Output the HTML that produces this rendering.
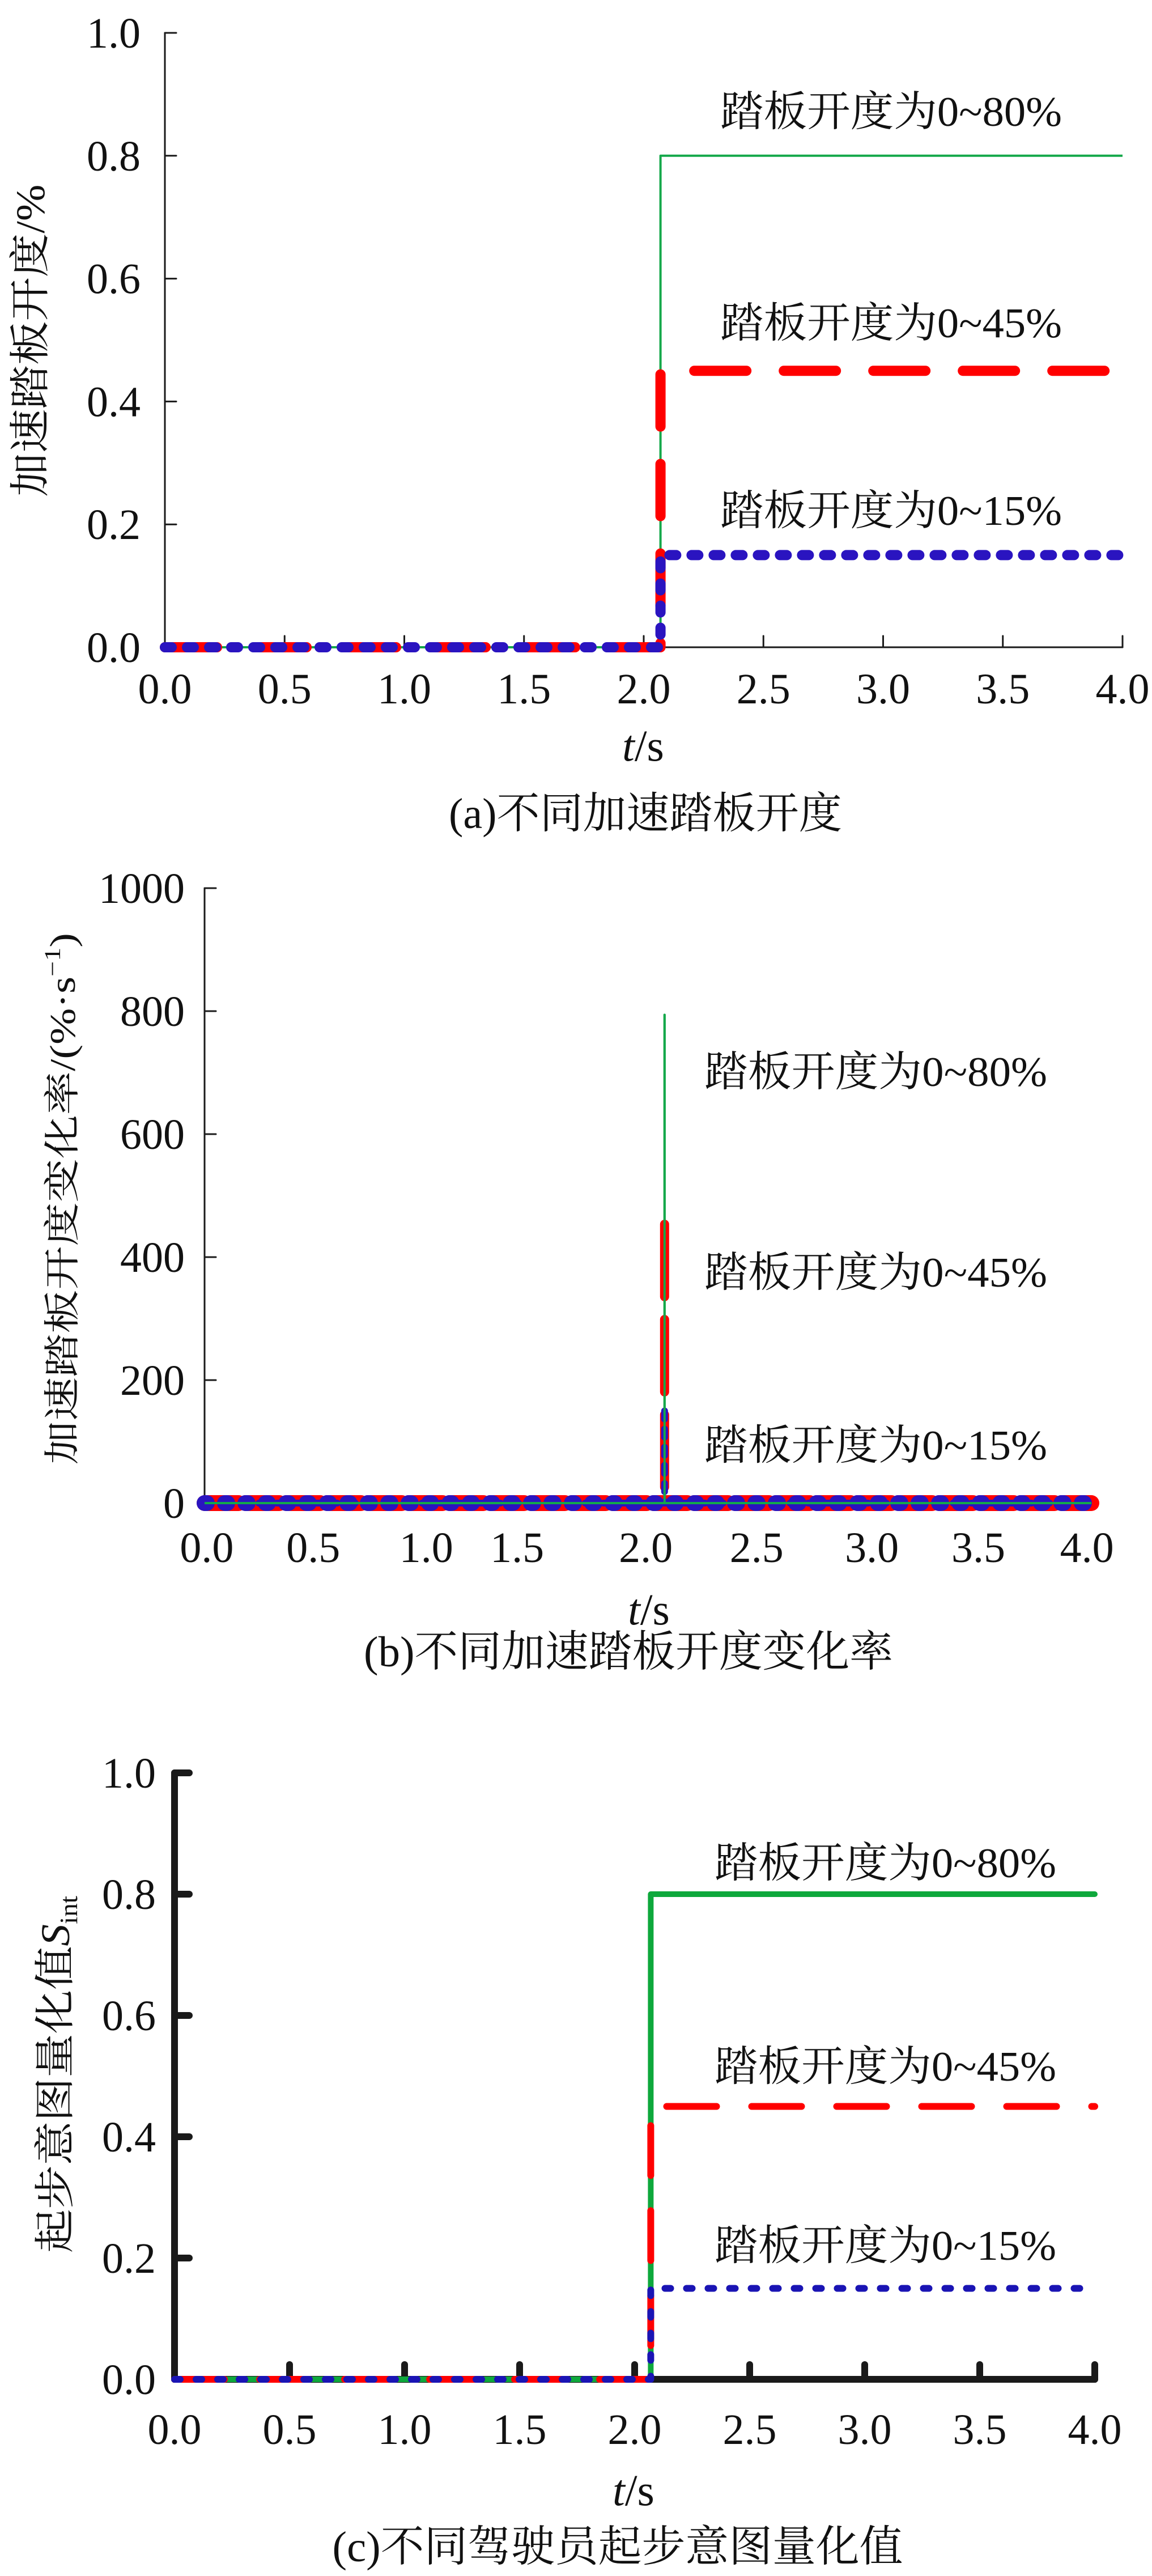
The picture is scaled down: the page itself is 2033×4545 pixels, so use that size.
<!DOCTYPE html>
<html><head><meta charset="utf-8">
<style>
html,body{margin:0;padding:0;background:#fff;}
svg{display:block;}
text{font-family:"Liberation Serif","Times New Roman","Noto Serif CJK SC","Noto Sans CJK SC",serif;fill:#111;}
</style></head>
<body>
<svg id="fig" width="2033" height="4545" viewBox="0 0 2033 4545" xmlns="http://www.w3.org/2000/svg" style="font-family:'Liberation Serif','Times New Roman','Noto Serif CJK SC',serif">
<rect width="2033" height="4545" fill="#fff"/>
</svg>
<script>
// ---------- data ----------
const xTicks = [0, 0.5, 1, 1.5, 2, 2.5, 3, 3.5, 4];
const xTickLabels = ["0.0","0.5","1.0","1.5","2.0","2.5","3.0","3.5","4.0"];
const xLabelTimesB = [0.01, 0.49, 1.0, 1.41, 1.99, 2.49, 3.01, 3.49, 3.98];
const yTicksA = [0, 0.2, 0.4, 0.6, 0.8, 1.0];
const yTickLabelsA = ["0.0","0.2","0.4","0.6","0.8","1.0"];
const yTicksB = [0, 200, 400, 600, 800, 1000];
const yTickLabelsB = ["0","200","400","600","800","1000"];

const timesA = [0, 2.07, 2.07, 4.0];
const pedal80A = [0, 0, 0.8, 0.8];
const pedal45A = [0, 0, 0.45, 0.45];
const pedal15A = [0, 0, 0.15, 0.15];

const timesB = [0, 2.075, 2.075, 2.075, 4.0];
const rate80B = [0, 0, 794, 0, 0];
const rate45B = [0, 0, 472, 0, 0];
const rate15B = [0, 0, 158, 0, 0];

const timesC = [0, 2.07, 2.07, 4.0];
const sint80C = [0, 0, 0.8, 0.8];
const sint45C = [0, 0, 0.45, 0.45];
const sint15C = [0, 0, 0.15, 0.15];

// ---------- helpers ----------
const NS = "http://www.w3.org/2000/svg";
const svg = document.getElementById("fig");
const SERIF = "'Liberation Serif','Times New Roman','Noto Serif CJK SC',serif";
function mk(tag, attrs, parent){
  const e = document.createElementNS(NS, tag);
  for (const k in attrs) e.setAttribute(k, attrs[k]);
  (parent || svg).appendChild(e);
  return e;
}
function scale(d0, d1, r0, r1){ return v => r0 + (v - d0) / (d1 - d0) * (r1 - r0); }
function pathD(ts, vs, sx, sy){
  return ts.map((t,i)=> (i?"L":"M") + sx(t).toFixed(1) + " " + sy(vs[i]).toFixed(1)).join(" ");
}

function drawChart(cfg){
  const g = mk("g", {});
  
  
  const sx = scale(0, 4, cfg.x0, cfg.x1);
  const sy = scale(cfg.ymin, cfg.ymax, cfg.y0, cfg.y1);
  // axes
  const ag = mk("g", {stroke:"#1a1a1a", "stroke-width":cfg.aw, "stroke-linecap":"round"}, g);
  
  
  const ya = mk("line", {x1:cfg.x0, x2:cfg.x0, y1:cfg.y0, y2:cfg.y1}, ag);
  
  
  const xa = mk("line", {x1:cfg.x0, x2:cfg.x1, y1:cfg.y0, y2:cfg.y0}, ag);
  
  
  cfg.yTicks.forEach((v,i) => {
    const t = mk("line", {x1:cfg.x0, x2:cfg.x0+cfg.tl, y1:sy(v), y2:sy(v)}, ag);
    
    
    const l = mk("text", {x:cfg.ylabX, y:sy(v)+26, "text-anchor":"end", "font-size":cfg.fs, "font-family":SERIF}, g);
    l.textContent = cfg.yLabels[i];
    
    
  });
  xTicks.forEach((v,i) => {
    if (cfg.xtick) {
      const t = mk("line", {x1:sx(v), x2:sx(v), y1:cfg.y0, y2:cfg.y0-cfg.tl}, ag);
      
      
    }
    const lx = cfg.xLabelT ? sx(cfg.xLabelT[i]) : sx(v);
    const l = mk("text", {x:lx, y:cfg.xlabY+26, "text-anchor":"middle", "font-size":cfg.fs, "font-family":SERIF}, g);
    l.textContent = xTickLabels[i];
    
    
  });
  // series
  const sg = mk("g", {}, g);
  
  
  cfg.series.forEach(s => {
    const p = mk("path", {d: pathD(s.t, s.v, sx, sy), fill:"none", stroke:s.color,
      "stroke-width":s.w, "stroke-linecap":s.cap||"butt", "stroke-linejoin":"round"}, sg);
    if (s.dash) p.setAttribute("stroke-dasharray", s.dash);
    
    
    if (s.base) {
      const b = mk("line", {x1:sx(s.t[0]), x2:sx(s.t[s.t.length-1]), y1:sy(0), y2:sy(0), stroke:s.color,
        "stroke-width":s.base.w, "stroke-linecap":"round", "stroke-dasharray":s.base.dash}, sg);
      
      
    }
  });
  // annotations
  cfg.notes.forEach(n => {
    const t = mk("text", {x:cfg.noteX, y:n.y+26, "font-size":74, textLength:cfg.noteW, lengthAdjust:"spacingAndGlyphs", "font-family":SERIF}, g);
    t.textContent = n.text;
    
    
  });
  return g;
}

// ---------- chart a ----------
drawChart({name:"chart-a-pedal-opening", x0:291, x1:1981, y0:1142, y1:58, ymin:0, ymax:1,
  aw:3, tl:20, xtick:true, fs:76, ylabX:248, xlabY:1215,
  yTicks:yTicksA, yLabels:yTickLabelsA,
  noteX:1271, noteW:603,
  notes:[{y:196,text:"踏板开度为0~80%",name:"label-80"},{y:569,text:"踏板开度为0~45%",name:"label-45"},{y:900,text:"踏板开度为0~15%",name:"label-15"}],
  series:[
    {name:"series-80", t:timesA, v:pedal80A, color:"#14a84a", w:4},
    {name:"series-45", t:timesA, v:pedal45A, color:"#ff0000", w:18, cap:"round", dash:"92 66"},
    {name:"series-15", t:timesA, v:pedal15A, color:"#2a14c0", w:18, cap:"round", dash:"12 27"}
  ]});

// ---------- chart b ----------
drawChart({name:"chart-b-pedal-rate", x0:361, x1:1926, y0:2652, y1:1567, ymin:0, ymax:1000,
  aw:3, tl:20, xtick:false, fs:76, ylabX:326, xlabY:2730, xLabelT:xLabelTimesB,
  yTicks:yTicksB, yLabels:yTickLabelsB,
  noteX:1243, noteW:605,
  notes:[{y:1890,text:"踏板开度为0~80%",name:"label-80"},{y:2244,text:"踏板开度为0~45%",name:"label-45"},{y:2549,text:"踏板开度为0~15%",name:"label-15"}],
  series:[
    {name:"series-80", t:timesB, v:rate80B, color:"#14a84a", w:4},
    {name:"series-45", t:timesB, v:rate45B, color:"#ff0000", w:16, cap:"round", dash:"100 68",
      base:{w:28, dash:"60 12"}},
    {name:"series-15", t:timesB, v:rate15B, color:"#2a14c0", w:12, cap:"round", dash:"10 22",
      base:{w:28, dash:"4 32"}},
    {name:"series-80-overlay", t:timesB, v:rate80B, color:"#14a84a", w:4}
  ]});

// ---------- chart c ----------
drawChart({name:"chart-c-start-intent", x0:308, x1:1932, y0:4198, y1:3128, ymin:0, ymax:1,
  aw:12, tl:26, xtick:true, fs:76, ylabX:275, xlabY:4286,
  yTicks:yTicksA, yLabels:yTickLabelsA,
  noteX:1261, noteW:603,
  notes:[{y:3286,text:"踏板开度为0~80%",name:"label-80"},{y:3645,text:"踏板开度为0~45%",name:"label-45"},{y:3961,text:"踏板开度为0~15%",name:"label-15"}],
  series:[
    {name:"series-80", t:timesC, v:sint80C, color:"#0ea83c", w:10, cap:"round"},
    {name:"series-45", t:timesC, v:sint45C, color:"#ff0000", w:12, cap:"round", dash:"88 62"},
    {name:"series-15", t:timesC, v:sint15C, color:"#1a14b4", w:12, cap:"round", dash:"10 28"}
  ]});
</script>
<svg style="position:absolute;left:0;top:0" width="2033" height="4545" viewBox="0 0 2033 4545" xmlns="http://www.w3.org/2000/svg">
<g style="font-family:'Liberation Serif','Times New Roman','Noto Serif CJK SC',serif" fill="#111">
<text transform="translate(78 601) rotate(-90)" text-anchor="middle" font-size="72" textLength="551" lengthAdjust="spacingAndGlyphs">加速踏板开度/%</text>
<text x="1135" y="1342" text-anchor="middle" font-size="78"><tspan font-style="italic">t</tspan>/s</text>
<text x="1139" y="1461" text-anchor="middle" font-size="76" textLength="694" lengthAdjust="spacingAndGlyphs">(a)不同加速踏板开度</text>

<text transform="translate(132 2115) rotate(-90)" text-anchor="middle" font-size="64" textLength="938" lengthAdjust="spacingAndGlyphs">加速踏板开度变化率/(%·s<tspan font-size="40" dy="-26">−1</tspan><tspan dy="26">)</tspan></text>
<text x="1145" y="2866" text-anchor="middle" font-size="78"><tspan font-style="italic">t</tspan>/s</text>
<text x="1109" y="2940" text-anchor="middle" font-size="76" textLength="934" lengthAdjust="spacingAndGlyphs">(b)不同加速踏板开度变化率</text>

<text transform="translate(122 3660) rotate(-90)" text-anchor="middle" font-size="72" textLength="630" lengthAdjust="spacingAndGlyphs">起步意图量化值<tspan font-style="italic">S</tspan><tspan font-size="44" dy="14">int</tspan></text>
<text x="1118" y="4420" text-anchor="middle" font-size="78"><tspan font-style="italic">t</tspan>/s</text>
<text x="1090" y="4519" text-anchor="middle" font-size="76" textLength="1007" lengthAdjust="spacingAndGlyphs">(c)不同驾驶员起步意图量化值</text>
</g>
</svg>
</body></html>
